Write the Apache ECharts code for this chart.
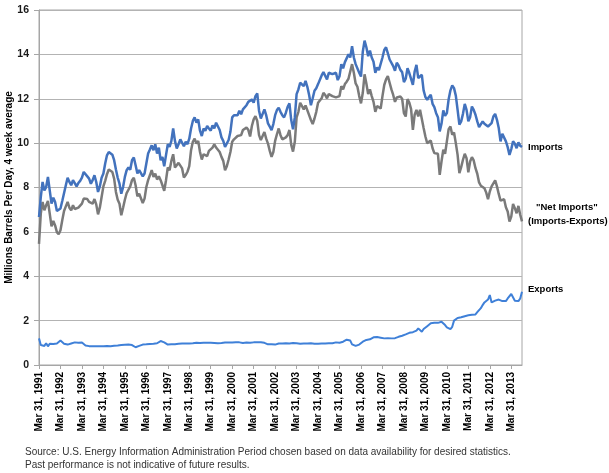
<!DOCTYPE html>
<html>
<head>
<meta charset="utf-8">
<script src="https://cdn.jsdelivr.net/npm/echarts@6/dist/echarts.min.js"></script>
<style>
  html, body { margin: 0; padding: 0; background: #fff; }
  #main { width: 609px; height: 473px; }
</style>
</head>
<body>
<div id="main"></div>
<script>
// monthly readings, Mar 1991 .. Sep 2013 (one row = Mar..Feb)
var imports = [
  6.67, 7.57, 8.25, 7.87, 8.02, 8.48, 7.87, 7.27, 7.54, 7.35, 6.94, 6.85,
  7.05, 7.39, 7.48, 8.10, 8.44, 8.25, 8.10, 8.33, 8.20, 8.05, 8.20, 8.30,
  8.44, 8.70, 8.75, 8.50, 8.40, 8.17, 8.33, 8.55, 8.25, 7.80, 8.05, 8.44,
  8.63, 9.08, 9.45, 9.60, 9.65, 9.48, 9.23, 8.81, 8.44, 8.17, 7.72, 8.02,
  8.48, 8.78, 8.90, 8.80, 9.23, 9.35, 9.00, 8.63, 8.78, 8.85, 8.50, 8.63,
  9.08, 9.53, 9.71, 9.90, 9.68, 9.95, 9.53, 9.80, 9.23, 9.38, 8.96, 9.46,
  9.95, 9.83, 10.10, 10.66, 10.10, 9.76, 9.95, 10.17, 10.20, 9.86, 10.06, 9.95,
  10.20, 10.66, 11.00, 11.16, 10.92, 11.07, 10.56, 10.32, 10.66, 10.56, 10.77, 10.66,
  10.56, 10.80, 10.66, 10.92, 10.89, 10.59, 10.26, 10.10, 9.83, 9.80, 10.14, 10.51,
  11.16, 11.26, 11.34, 11.26, 11.46, 11.30, 11.52, 11.46, 11.71, 11.86, 11.82, 11.97,
  11.82, 12.12, 12.24, 11.46, 11.11, 11.19, 11.52, 11.26, 10.89, 10.74, 10.59, 10.86,
  11.26, 11.49, 11.60, 11.41, 11.26, 11.16, 11.37, 11.64, 11.79, 11.04, 10.62, 11.16,
  12.21, 12.42, 12.72, 12.81, 12.57, 12.81, 12.54, 12.17, 11.71, 12.02, 12.36, 12.47,
  12.66, 12.75, 13.05, 13.20, 13.11, 12.87, 13.17, 13.26, 13.11, 13.02, 13.17, 12.84,
  13.02, 13.56, 13.37, 13.65, 13.74, 14.00, 13.86, 14.37, 13.86, 13.56, 13.56, 13.17,
  13.00, 14.12, 14.62, 14.32, 13.92, 14.17, 13.86, 13.67, 13.17, 13.41, 13.29, 13.29,
  13.86, 14.20, 14.32, 14.05, 13.77, 13.77, 13.47, 13.26, 13.62, 13.50, 13.30, 13.20,
  12.75, 12.90, 13.38, 13.16, 13.13, 12.63, 13.23, 13.53, 12.93, 13.00, 13.08, 12.38,
  12.08, 11.95, 12.08, 12.18, 11.77, 11.62, 11.35, 11.17, 10.53, 10.87, 11.47, 11.23,
  11.35, 11.98, 12.38, 12.60, 12.48, 12.14, 11.50, 10.83, 10.98, 11.32, 11.77, 11.50,
  10.98, 11.17, 11.65, 11.50, 11.28, 10.98, 10.72, 10.78, 10.98, 10.87, 10.93, 10.75,
  10.68, 10.90, 11.20, 11.32, 11.05, 10.68, 10.08, 10.42, 10.48, 10.08, 9.82, 9.47,
  9.73, 10.08, 9.97, 9.77, 10.03, 9.88, 9.82
];

var netImports = [
  5.46, 6.82, 7.35, 6.97, 7.20, 7.39, 6.82, 6.25, 6.49, 6.29, 5.99, 5.89,
  6.07, 6.52, 6.94, 7.15, 7.35, 7.09, 6.97, 7.20, 7.03, 6.94, 7.09, 7.00,
  7.27, 7.50, 7.45, 7.48, 7.35, 7.27, 7.27, 7.48, 7.24, 6.79, 7.09, 7.57,
  8.05, 8.30, 8.60, 8.81, 8.85, 8.70, 8.40, 7.80, 7.45, 7.27, 6.75, 7.09,
  7.45, 7.75, 7.90, 8.05, 8.33, 8.44, 8.10, 7.60, 7.72, 7.78, 7.30, 7.50,
  8.02, 8.33, 8.55, 8.78, 8.48, 8.63, 8.36, 8.50, 8.33, 8.10, 7.85, 8.33,
  8.90, 8.78, 9.20, 9.50, 8.90, 8.81, 9.11, 9.20, 8.86, 8.45, 8.56, 8.71,
  8.96, 9.68, 10.06, 10.20, 9.98, 10.10, 9.60, 9.26, 9.50, 9.56, 9.41, 9.65,
  9.65, 9.80, 9.95, 9.80, 9.74, 9.60, 9.38, 9.20, 8.78, 8.96, 9.26, 9.60,
  10.06, 10.17, 10.17, 10.32, 10.40, 10.36, 10.59, 10.51, 10.70, 10.60, 10.30, 10.77,
  11.07, 11.22, 11.00, 10.36, 10.14, 10.32, 10.50, 10.20, 9.98, 9.65, 9.38, 9.60,
  10.10, 10.40, 10.66, 10.36, 10.17, 10.10, 10.26, 10.36, 10.59, 9.92, 9.62, 10.06,
  11.16, 11.41, 11.82, 11.76, 11.52, 11.70, 11.61, 11.26, 11.04, 10.86, 11.11, 11.41,
  11.82, 11.76, 12.02, 12.27, 12.17, 12.02, 12.21, 12.18, 12.12, 12.21, 12.06, 12.12,
  12.12, 12.57, 12.42, 12.66, 12.77, 12.90, 12.87, 13.56, 13.17, 12.69, 12.54, 12.12,
  11.79, 12.27, 13.10, 12.69, 12.21, 12.42, 12.12, 11.86, 11.41, 11.67, 11.61, 11.56,
  12.12, 12.62, 12.87, 13.02, 12.72, 12.42, 12.17, 11.86, 12.06, 12.02, 12.10, 12.00,
  11.35, 11.20, 11.98, 11.83, 11.53, 10.60, 11.28, 11.50, 11.20, 11.50, 11.50, 10.68,
  10.30, 10.00, 10.09, 10.12, 9.77, 9.55, 9.47, 9.52, 8.57, 9.17, 9.70, 9.52,
  10.08, 10.63, 10.75, 10.38, 10.48, 10.00, 9.47, 8.65, 8.92, 9.25, 9.52, 9.32,
  8.68, 9.17, 9.37, 9.22, 8.87, 8.62, 8.23, 8.08, 8.02, 7.97, 7.77, 7.47,
  7.82, 8.05, 8.12, 8.32, 8.05, 7.71, 7.41, 7.32, 7.47, 7.11, 6.92, 6.47,
  6.69, 7.26, 7.07, 6.84, 7.17, 6.77, 6.47
];

var exports = [
  1.20, 0.90, 0.95, 0.86, 0.98, 0.84, 0.96, 0.92, 0.95, 0.90, 0.97, 1.03,
  1.10, 1.02, 0.96, 0.94, 0.92, 0.95, 0.97, 1.00, 1.02, 1.03, 1.00, 1.02,
  1.01, 0.96, 0.88, 0.85, 0.85, 0.84, 0.85, 0.85, 0.85, 0.84, 0.85, 0.86,
  0.85, 0.85, 0.86, 0.86, 0.85, 0.86, 0.87, 0.88, 0.88, 0.89, 0.90, 0.90,
  0.91, 0.90, 0.92, 0.93, 0.90, 0.86, 0.80, 0.82, 0.86, 0.90, 0.92, 0.91,
  0.93, 0.92, 0.95, 0.93, 0.96, 0.94, 0.98, 1.03, 1.08, 1.12, 1.02, 0.95,
  0.92, 0.90, 0.93, 0.95, 0.94, 0.97, 0.96, 0.95, 0.97, 0.96, 0.97, 0.96,
  0.97, 0.98, 0.98, 0.99, 1.00, 1.02, 0.99, 0.97, 1.00, 0.99, 1.00, 0.98,
  1.00, 0.98, 0.99, 1.00, 0.98, 1.00, 0.99, 0.99, 1.01, 1.00, 1.01, 1.02,
  1.01, 1.02, 1.02, 1.01, 1.02, 1.00, 0.99, 1.00, 1.01, 1.02, 1.00, 1.02,
  1.02, 1.01, 1.02, 1.03, 1.03, 1.04, 1.00, 0.98, 0.93, 0.92, 0.93, 0.96,
  0.92, 0.95, 0.97, 0.96, 0.97, 0.99, 0.98, 0.96, 0.97, 0.98, 0.99, 1.00,
  0.98, 0.97, 0.96, 0.98, 0.97, 0.96, 0.97, 0.96, 0.98, 0.97, 0.96, 0.97,
  0.96, 0.97, 0.97, 0.98, 0.97, 0.99, 0.98, 1.00, 0.98, 1.00, 1.02, 1.00,
  1.00, 1.02, 1.05, 1.10, 1.14, 1.17, 1.10, 0.93, 0.84, 0.86, 0.88, 0.92,
  0.99, 1.05, 1.10, 1.13, 1.14, 1.16, 1.18, 1.25, 1.29, 1.26, 1.25, 1.23,
  1.22, 1.20, 1.20, 1.21, 1.20, 1.20, 1.22, 1.21, 1.23, 1.27, 1.30, 1.32,
  1.35, 1.38, 1.42, 1.45, 1.46, 1.48, 1.50, 1.55, 1.65, 1.72, 1.50, 1.62,
  1.70, 1.75, 1.82, 1.88, 1.90, 1.90, 1.90, 1.90, 1.92, 1.95, 1.88, 1.80,
  1.70, 1.65, 1.62, 1.72, 2.00, 2.08, 2.12, 2.10, 2.15, 2.18, 2.20, 2.16,
  2.24, 2.30, 2.26, 2.30, 2.28, 2.38, 2.40, 2.56, 2.70, 2.82, 2.90, 2.95,
  3.15, 2.82, 2.90, 2.90, 2.92, 2.95, 2.90, 2.88, 2.92, 2.88, 3.00, 3.05,
  3.20, 3.17, 2.90, 2.82, 2.88, 3.00, 3.30
];

var monthNames = ["Mar", "Apr", "May", "Jun", "Jul", "Aug", "Sep", "Oct", "Nov", "Dec", "Jan", "Feb"];
var startYear = 1991;

// one category per month, the March ones carry the axis label text
var categories = [];
for (var i = 0; i < imports.length; i++) {
  var yr = startYear + Math.floor((i + 2) / 12);
  if (i % 12 === 0) {
    categories.push("Mar 31, " + (startYear + i / 12));
  } else {
    categories.push(monthNames[i % 12] + " " + yr);
  }
}

var myChart = echarts.init(document.getElementById("main"));
var fontFam = "Liberation Sans, Arial, sans-serif";

var option = {
  animation: false,
  backgroundColor: "#fff",
  textStyle: { fontFamily: fontFam },
  grid: {
    left: 39,
    right: 87,
    top: 10,
    bottom: 108,
    outerBoundsMode: "none",
    show: true,
    borderColor: "#a6a6a6",
    borderWidth: 1,
  },
  xAxis: {
    type: "category",
    boundaryGap: false,
    data: categories,
    axisLine: { lineStyle: { color: "#a6a6a6" } },
    axisTick: { interval: 11, length: 4, lineStyle: { color: "#a6a6a6" } },
    axisLabel: {
      interval: 11,
      rotate: 90,
      margin: 7,
      fontSize: 10,
      fontWeight: "bold",
      color: "#000",
    },
    splitLine: { show: false },
  },
  yAxis: {
    type: "value",
    min: 0,
    max: 16,
    interval: 2,
    name: "Millions Barrels Per Day, 4 week average",
    nameLocation: "middle",
    nameGap: 25,
    nameMoveOverlap: false,
    nameTextStyle: { fontSize: 10, fontWeight: "bold", color: "#000" },
    axisLine: { show: true, lineStyle: { color: "#a6a6a6" } },
    axisTick: { show: true, length: 5, lineStyle: { color: "#a6a6a6" } },
    axisLabel: { fontSize: 10.5, fontWeight: "bold", color: "#1a1a1a", margin: 10 },
    splitLine: { lineStyle: { color: "#b3b3b3", width: 1 } },
  },
  series: [
    {
      name: "Net Imports",
      type: "line",
      data: netImports,
      showSymbol: false,
      lineStyle: { color: "#7a7a7a", width: 2.5 },
      itemStyle: { color: "#7a7a7a" },
      endLabel: {
        show: true,
        distance: 6,
        formatter: '{a|"Net Imports"}\n{b|(Imports-Exports)}',
        rich: {
          a: { fontSize: 9.5, fontWeight: "bold", color: "#000", padding: [0, 0, 0, 8], lineHeight: 14 },
          b: { fontSize: 9.5, fontWeight: "bold", color: "#000", lineHeight: 14 },
        },
        offset: [0, -7],
      },
    },
    {
      name: "Imports",
      type: "line",
      data: imports,
      showSymbol: false,
      lineStyle: { color: "#4272bd", width: 2.5 },
      itemStyle: { color: "#4272bd" },
      endLabel: {
        show: true,
        distance: 6,
        formatter: "Imports",
        fontSize: 9.5,
        fontWeight: "bold",
        color: "#000",
      },
    },
    {
      name: "Exports",
      type: "line",
      data: exports,
      showSymbol: false,
      lineStyle: { color: "#3f80d8", width: 2 },
      itemStyle: { color: "#3f80d8" },
      endLabel: {
        show: true,
        distance: 6,
        formatter: "Exports",
        fontSize: 9.5,
        fontWeight: "bold",
        color: "#000",
        offset: [0, -2],
      },
    },
  ],
  graphic: [
    {
      type: "text",
      left: 25,
      top: 446,
      style: {
        text: "Source: U.S. Energy Information Administration Period chosen based on data availability for desired statistics.\nPast performance is not indicative of future results.",
        fontSize: 10,
        lineHeight: 13,
        fill: "#333",
        fontFamily: fontFam,
      },
    },
  ],
};

myChart.setOption(option);
</script>
</body>
</html>
